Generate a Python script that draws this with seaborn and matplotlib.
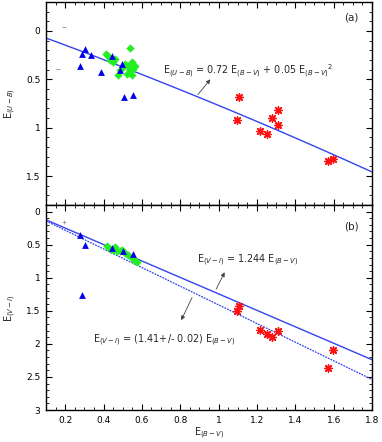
import numpy as np
import pandas as pd
import matplotlib
matplotlib.use("Agg")
import matplotlib.pyplot as plt
from matplotlib.ticker import MultipleLocator
import seaborn as sns

sns.set_theme(style="white")
plt.rcParams['font.family'] = ['DejaVu Sans']

# ---- data: panel (a) E(U-B) vs E(B-V) ----
a_tri_x = [0.303, 0.286, 0.335, 0.277, 0.387, 0.446, 0.495, 0.486, 0.507, 0.555]
a_tri_y = [0.187, 0.238, 0.245, 0.357, 0.425, 0.262, 0.340, 0.408, 0.687, 0.663]
a_dia_x = [0.538, 0.413, 0.425, 0.434, 0.448, 0.460, 0.477, 0.486, 0.503, 0.512, 0.529, 0.538, 0.547, 0.555, 0.564, 0.547, 0.520]
a_dia_y = [0.177, 0.238, 0.262, 0.296, 0.323, 0.289, 0.459, 0.408, 0.374, 0.340, 0.357, 0.408, 0.323, 0.390, 0.357, 0.452, 0.440]
a_star_x = [1.108, 1.097, 1.216, 1.250, 1.277, 1.311, 1.311, 1.569, 1.598]
a_star_y = [0.680, 0.920, 1.030, 1.065, 0.895, 0.816, 0.970, 1.344, 1.327]
a_grey_x = [0.195, 0.164]
a_grey_y = [-0.04, 0.39]

# ---- data: panel (b) E(V-I) vs E(B-V) ----
b_tri_x = [0.277, 0.303, 0.286, 0.446, 0.500, 0.555]
b_tri_y = [0.359, 0.500, 1.260, 0.550, 0.590, 0.640]
b_dia_x = [0.416, 0.434, 0.451, 0.469, 0.486, 0.495, 0.512, 0.529, 0.547, 0.564, 0.573, 0.460]
b_dia_y = [0.525, 0.560, 0.576, 0.590, 0.600, 0.576, 0.626, 0.662, 0.700, 0.742, 0.762, 0.540]
b_star_x = [1.108, 1.097, 1.216, 1.250, 1.277, 1.311, 1.569, 1.598]
b_star_y = [1.424, 1.500, 1.790, 1.853, 1.894, 1.800, 2.370, 2.090]
b_grey_x = [0.195]
b_grey_y = [0.15]

# fit relations (from the annotations)
ub_coef = [0.72, 0.05]
vi_slope_a = 1.244
vi_slope_b = 1.41

xlim = (0.1, 1.8)

fig = plt.figure(figsize=(3.82, 4.42), dpi=100)
ax1 = fig.add_axes([46/382, 1-205/442, 326/382, 203/442])
ax2 = fig.add_axes([46/382, 1-410/442, 326/382, 205/442])

blue = "#0000ee"
lblue = "#3344ee"
green = "#22ee22"
red = "#ff1111"

def pts(ax, x, y, marker, color, s, lw=0):
    sns.scatterplot(x=x, y=y, ax=ax, marker=marker, color=color, s=s,
                    linewidth=lw, edgecolor=color, zorder=3, legend=False)

xl = np.linspace(xlim[0], xlim[1], 50)
# panel a
sns.lineplot(x=xl, y=ub_coef[0]*xl + ub_coef[1]*xl**2, ax=ax1, color=lblue, lw=1.0, zorder=2)
pts(ax1, a_dia_x, a_dia_y, 'D', green, 18)
pts(ax1, a_tri_x, a_tri_y, '^', blue, 24)
pts(ax1, a_star_x, a_star_y, (8, 2, 0), red, 30, lw=1.0)
pts(ax1, a_grey_x, a_grey_y, '_', '#888888', 6, lw=0.6)

# panel b
sns.lineplot(x=xl, y=vi_slope_a*xl, ax=ax2, color=lblue, lw=1.0, zorder=2)
sns.lineplot(x=xl, y=vi_slope_b*xl, ax=ax2, color=lblue, lw=0.9, linestyle=(0, (1.5, 0.8)), zorder=2)
pts(ax2, b_dia_x, b_dia_y, 'D', green, 18)
pts(ax2, b_tri_x, b_tri_y, '^', blue, 24)
pts(ax2, b_star_x, b_star_y, (8, 2, 0), red, 30, lw=1.0)
pts(ax2, b_grey_x, b_grey_y, '+', '#888888', 5, lw=0.5)

for ax in (ax1, ax2):
    ax.set_xlim(*xlim)
    ax.xaxis.set_major_locator(MultipleLocator(0.2))
    ax.xaxis.set_minor_locator(MultipleLocator(0.05))
    ax.yaxis.set_major_locator(MultipleLocator(0.5))
    ax.yaxis.set_minor_locator(MultipleLocator(0.1))
    ax.tick_params(which='both', direction='in', top=True, right=True,
                   bottom=True, left=True, colors='black', labelsize=6.5, pad=4)
    ax.tick_params(which='major', length=4, width=0.8)
    ax.tick_params(which='minor', length=2, width=0.6)
    for sp in ax.spines.values():
        sp.set_color('black')
        sp.set_linewidth(1.0)
    ax.set_xlabel("")
    ax.set_ylabel("")

ax1.set_ylim(1.8, -0.3)
ax2.set_ylim(3.0, -0.1)
ax1.tick_params(labelbottom=False)
ax1.set_yticks([0, 0.5, 1, 1.5])
ax1.set_yticklabels(["0", "0.5", "1", "1.5"])
ax2.set_xticks([0.2, 0.4, 0.6, 0.8, 1.0, 1.2, 1.4, 1.6, 1.8])
ax2.set_xticklabels(["0.2", "0.4", "0.6", "0.8", "1", "1.2", "1.4", "1.6", "1.8"])
ax2.set_yticks([0, 0.5, 1, 1.5, 2, 2.5, 3])
ax2.set_yticklabels(["0", "0.5", "1", "1.5", "2", "2.5", "3"])

ax1.set_ylabel(r"E$_{(U-B)}$", fontsize=7, labelpad=6)
ax2.set_ylabel(r"E$_{(V-I)}$", fontsize=7, labelpad=6)
ax2.set_xlabel(r"E$_{(B-V)}$", fontsize=7, labelpad=1)

ax1.text(0.96, 0.95, "(a)", transform=ax1.transAxes, ha='right', va='top', fontsize=7.5)
ax2.text(0.96, 0.92, "(b)", transform=ax2.transAxes, ha='right', va='top', fontsize=7.5)

arrow = dict(arrowstyle='-|>', color='#444444', lw=0.6, mutation_scale=6)
ax1.text(0.71, 0.42, r"E$_{(U-B)}$ = 0.72 E$_{(B-V)}$ + 0.05 E$_{(B-V)}$$^2$",
         fontsize=6.9, ha='left', va='center')
ax1.annotate("", xy=(0.966, 0.478), xytext=(0.883, 0.68), arrowprops=arrow)

ax2.text(0.89, 0.73, r"E$_{(V-I)}$ = 1.244 E$_{(B-V)}$",
         fontsize=6.9, ha='left', va='center')
ax2.annotate("", xy=(1.038, 0.88), xytext=(0.981, 1.21), arrowprops=arrow)
ax2.text(0.345, 1.94, r"E$_{(V-I)}$ = (1.41+/- 0.02) E$_{(B-V)}$",
         fontsize=6.9, ha='left', va='center')
ax2.annotate("", xy=(0.799, 1.68), xytext=(0.868, 1.26), arrowprops=arrow)

fig.savefig("out.png", dpi=100)
